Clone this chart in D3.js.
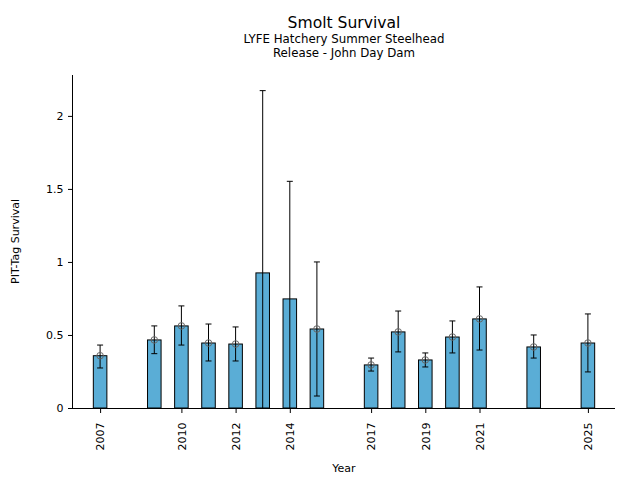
<!DOCTYPE html>
<html>
<head>
<meta charset="utf-8">
<script src="https://cdn.jsdelivr.net/npm/d3@7"></script>
<style>
  html, body { margin: 0; padding: 0; background: #ffffff; }
  svg { display: block; font-family: "DejaVu Sans", sans-serif; }
  svg text { font-family: "DejaVu Sans", sans-serif; }
</style>
</head>
<body>
<svg id="chart" width="640" height="480"></svg>
<script>
// ---- data ----
const years    = [2007, 2009, 2010, 2011, 2012, 2013, 2014, 2015, 2017, 2018, 2019, 2020, 2021, 2023, 2025];
const survival = [0.358, 0.466, 0.562, 0.445, 0.438, 0.925, 0.747, 0.541, 0.295, 0.521, 0.329, 0.486, 0.610, 0.418, 0.445];
const lowerCI  = [0.274, 0.372, 0.431, 0.322, 0.322, -0.323, -0.058, 0.082, 0.253, 0.384, 0.281, 0.377, 0.397, 0.342, 0.247];
const upperCI  = [0.431, 0.562, 0.699, 0.575, 0.555, 2.173, 1.552, 1.000, 0.342, 0.664, 0.377, 0.596, 0.829, 0.500, 0.644];
const showMarker = [true, true, true, true, true, false, false, true, true, true, true, true, true, true, true];
const xTickYears = [2007, 2010, 2012, 2014, 2017, 2019, 2021, 2025];
const yTickValues = [0, 0.5, 1, 1.5, 2];
const yTickLabels = ["0", "0.5", "1", "1.5", "2"];
const titleText = "Smolt Survival";
const subtitleLines = ["LYFE Hatchery Summer Steelhead", "Release - John Day Dam"];
const xLabel = "Year";
const yLabel = "PIT-Tag Survival";

const rows = years.map((y, i) => ({ year: y, value: survival[i], lo: lowerCI[i], hi: upperCI[i], marker: showMarker[i] }));

// ---- layout ----
const pL = 73, pR = 615, pT = 75, pB = 408;
const FONT = "DejaVu Sans, sans-serif";
const svg = d3.select("#chart");
svg.append("rect").attr("width", 640).attr("height", 480).attr("fill", "#ffffff");

const x = d3.scaleLinear().domain([2006, 2026]).range([pL, pR]);
const y = d3.scaleLinear().domain([0, 2.28]).range([pB, pT]);
const barW = x(2006.5) - x(2006);

svg.append("defs").append("clipPath").attr("id", "plotclip")
  .append("rect").attr("x", pL).attr("y", pT).attr("width", pR - pL).attr("height", pB - pT);

const plot = svg.append("g").attr("clip-path", "url(#plotclip)");

// bars
plot.selectAll("rect.bar").data(rows).enter().append("rect")
  .attr("class", "bar")
  .attr("x", d => x(d.year) - barW / 2)
  .attr("width", barW)
  .attr("y", d => y(d.value))
  .attr("height", d => y(0) - y(d.value))
  .attr("fill", "#5aadd6")
  .attr("stroke", "#000")
  .attr("stroke-width", 1);

// error bars
const eb = plot.selectAll("g.eb").data(rows).enter().append("g").attr("class", "eb");
eb.append("line")
  .attr("x1", d => x(d.year)).attr("x2", d => x(d.year))
  .attr("y1", d => y(d.lo)).attr("y2", d => y(d.hi))
  .attr("stroke", "#000").attr("stroke-width", 1);
eb.append("line")
  .attr("x1", d => x(d.year) - 3).attr("x2", d => x(d.year) + 3)
  .attr("y1", d => y(d.hi)).attr("y2", d => y(d.hi))
  .attr("stroke", "#000").attr("stroke-width", 1);
eb.append("line")
  .attr("x1", d => x(d.year) - 3).attr("x2", d => x(d.year) + 3)
  .attr("y1", d => y(d.lo)).attr("y2", d => y(d.lo))
  .attr("stroke", "#000").attr("stroke-width", 1);

// markers
plot.selectAll("circle.pt").data(rows.filter(d => d.marker)).enter().append("circle")
  .attr("class", "pt")
  .attr("cx", d => x(d.year))
  .attr("cy", d => y(d.value))
  .attr("r", 3.3)
  .attr("fill", "none")
  .attr("stroke", "#666")
  .attr("stroke-width", 1);

// axes
const xAxis = d3.axisBottom(x).tickValues(xTickYears).tickFormat(d3.format("d")).tickSize(5).tickSizeOuter(0);
const gx = svg.append("g").attr("transform", `translate(0,${pB})`).call(xAxis)
  .attr("font-family", FONT).attr("font-size", 11);
gx.select(".domain").attr("stroke", "#000").attr("d", `M${pL},0.5H${pR}`);
gx.selectAll(".tick line").attr("stroke", "#000");
gx.selectAll(".tick text")
  .attr("font-size", 11)
  .attr("fill", "#000")
  .attr("text-anchor", "end")
  .attr("transform", "translate(0,14.5) rotate(-90)")
  .attr("x", 0).attr("y", 0).attr("dy", "0.35em");

const yAxis = d3.axisLeft(y).tickValues(yTickValues).tickFormat((d, i) => yTickLabels[i]).tickSize(5).tickSizeOuter(0);
const gy = svg.append("g").attr("transform", `translate(${pL},0)`).call(yAxis)
  .attr("font-family", FONT).attr("font-size", 11);
gy.select(".domain").attr("stroke", "#000").attr("d", `M-0.5,${pT}V${pB}`);
gy.selectAll(".tick line").attr("stroke", "#000");
gy.selectAll(".tick text").attr("font-size", 11).attr("fill", "#000").attr("x", -9.5);

// titles
const cx = (pL + pR) / 2;
svg.append("text").attr("x", cx).attr("y", 28.3).attr("text-anchor", "middle")
  .attr("font-size", 15.6).attr("fill", "#000").text(titleText);
svg.selectAll("text.sub").data(subtitleLines).enter().append("text")
  .attr("class", "sub")
  .attr("x", cx).attr("y", (d, i) => 42.5 + i * 14.5)
  .attr("text-anchor", "middle").attr("font-size", 11.8).attr("fill", "#000")
  .text(d => d);

svg.append("text").attr("x", cx).attr("y", 472.3).attr("text-anchor", "middle")
  .attr("font-size", 11).attr("fill", "#000").text(xLabel);
svg.append("text").attr("transform", `translate(19.3,${(pT + pB) / 2}) rotate(-90)`)
  .attr("text-anchor", "middle").attr("font-size", 11).attr("fill", "#000").text(yLabel);
</script>
</body>
</html>
